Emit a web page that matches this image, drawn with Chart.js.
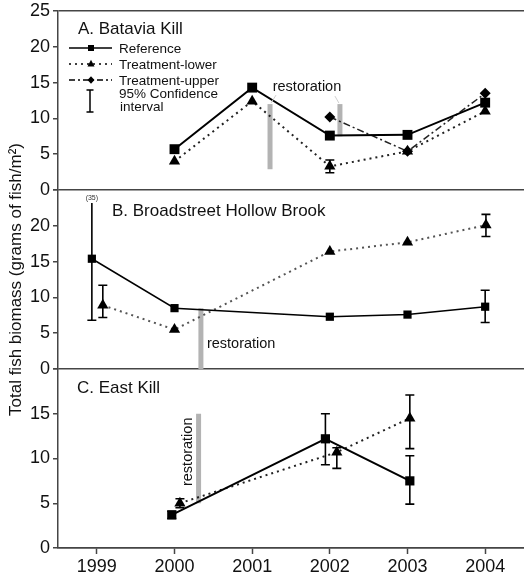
<!DOCTYPE html>
<html><head><meta charset="utf-8">
<script src="https://cdn.jsdelivr.net/npm/chart.js@4.4.1/dist/chart.umd.min.js"></script>
<style>html,body{margin:0;padding:0;background:#fff}canvas{display:block}</style>
</head><body>
<canvas id="c" width="524" height="580"></canvas>
<script>
// ---------------- DATA ----------------
const years = [1999, 2000, 2001, 2002, 2003, 2004];
const yTicksAB = [0, 5, 10, 15, 20, 25];
const yTicksC = [0, 5, 10, 15, 20];

// Panel A – Batavia Kill
const aReference = [null, 5.7, 14.3, 7.6, 7.7, 12.2];
const aLower     = [null, 4.0, 12.4, 3.3, 5.4, 11.0];
const aUpper     = [null, null, null, 10.2, 5.4, 13.5];
const aLowerCiLow  = [null, null, null, 2.4, null, null];
const aLowerCiHigh = [null, null, null, 4.2, null, null];

// Panel B – Broadstreet Hollow Brook
const bReference = [15.4, 8.5, null, 7.3, 7.6, 8.7];
const bLower     = [8.9, 5.5, null, 16.4, 17.7, 20.1];
const bReferenceCiLow  = [6.8, null, null, null, null, 6.5];
const bReferenceCiHigh = [35, null, null, null, null, 11.0];
const bLowerCiLow  = [7.2, null, null, null, null, 18.5];
const bLowerCiHigh = [11.7, null, null, null, null, 21.6];

// Panel C – East Kill
const cReference = [null, 3.7, null, 12.2, 7.5, null];
const cLower     = [null, 5.0, null, 10.7, 14.5, null];
const cReferenceCiLow  = [null, 3.3, null, 9.3, 4.9, null];
const cReferenceCiHigh = [null, 4.1, null, 15.0, 10.3, null];
const cLowerCiLow  = [null, 4.5, null, 8.9, 11.1, null];
const cLowerCiHigh = [null, 5.5, null, 11.2, 17.1, null];

// Restoration timing (year) and bar extents (y values)
const restorationA = [2001.23, 2002.13];
const restorationARange = [[2.9, 12.0], [7.5, 12.0]];
const restorationB = 2000.34;
const restorationBRange = [0, 8.5];
const restorationC = 2000.31;
const restorationCRange = [5.0, 15.0];

// ---------------- LAYOUT / STYLE ----------------
const zeroDodge = [0, 0, 0, 0, 0, 0];
const bRefDodge = [-0.064, 0, 0, 0, 0, 0];
const bLowDodge = [0.077, 0, 0, 0, 0, 0.01];
const cRefDodge = [0, -0.035, 0, -0.057, 0.03, 0];
const cLowDodge = [0, 0.07, 0, 0.09, 0.03, 0];
const truncatedCiTop = 23.2;   // display end of truncated CI (value printed)

const FONT = '"Liberation Sans", Arial, Helvetica, sans-serif';
const AXIS = '#454545';
const TXT = '#111';
const GREY = '#b3b3b3';

function series(vals, dodge) {
  const out = [];
  years.forEach((yr, i) => { if (vals[i] != null) out.push({x: yr + dodge[i], y: vals[i]}); });
  return out;
}
function vbar(t, r) { return [{x: t, y: r[0]}, {x: t, y: r[1]}]; }

const refStyle = (axis, w, r) => ({type: 'line', yAxisID: axis, borderColor: '#000', borderWidth: w,
  pointStyle: 'rect', pointRadius: r, pointBackgroundColor: '#000', pointBorderColor: '#000', pointBorderWidth: 0, order: 1});
const lowStyle = (axis, col, r) => ({type: 'line', yAxisID: axis, borderColor: col, borderWidth: 2, borderDash: [2, 4],
  pointStyle: 'triangle', pointRadius: r, pointBackgroundColor: '#000', pointBorderColor: '#000', pointBorderWidth: 0, order: 2});
const upStyle = (axis) => ({type: 'line', yAxisID: axis, borderColor: '#222', borderWidth: 1.5, borderDash: [7, 3, 2, 3],
  pointStyle: 'rectRot', pointRadius: 5.5, pointBackgroundColor: '#000', pointBorderColor: '#000', pointBorderWidth: 0, order: 3});
const barStyle = (axis) => ({type: 'line', yAxisID: axis, borderColor: GREY, borderWidth: 5, pointRadius: 0, borderCapStyle: 'butt', order: 10});

const datasets = [
  Object.assign(barStyle('yA'), {data: vbar(restorationA[0], restorationARange[0])}),
  Object.assign(barStyle('yA'), {data: vbar(restorationA[1], restorationARange[1])}),
  Object.assign(barStyle('yB'), {data: vbar(restorationB, restorationBRange)}),
  Object.assign(barStyle('yC'), {data: vbar(restorationC, restorationCRange)}),
  Object.assign(refStyle('yA', 2, 7), {label: 'Reference', data: series(aReference, zeroDodge)}),
  Object.assign(lowStyle('yA', '#222', 6.5), {label: 'Treatment-lower', data: series(aLower, zeroDodge)}),
  Object.assign(upStyle('yA'), {label: 'Treatment-upper', data: series(aUpper, zeroDodge)}),
  Object.assign(refStyle('yB', 1.5, 5.8), {label: 'Reference', data: series(bReference, bRefDodge)}),
  Object.assign(lowStyle('yB', '#555', 6.5), {label: 'Treatment-lower', data: series(bLower, bLowDodge)}),
  Object.assign(refStyle('yC', 2, 6.5), {label: 'Reference', data: series(cReference, cRefDodge)}),
  Object.assign(lowStyle('yC', '#222', 6.5), {label: 'Treatment-lower', data: series(cLower, cLowDodge)})
];

function yAxis(max, weight, ticksList, showTop, title) {
  return {
    type: 'linear', position: 'left', stack: 'panels', stackWeight: 1, weight: weight,
    min: 0, max: max,
    afterBuildTicks: a => { a.ticks = ticksList.map(v => ({value: v})); },
    ticks: {autoSkip: false, padding: 3, color: TXT, font: {family: FONT, size: 18},
      callback: v => (v === max && !showTop) ? '' : String(v)},
    grid: {
      color: c => (c.tick && (c.tick.value === 0 || (showTop && c.tick.value === max))) ? AXIS : 'rgba(0,0,0,0)',
      lineWidth: 1.5, drawTicks: true, tickLength: 5, tickColor: AXIS, tickWidth: 1.5
    },
    border: {display: true, color: AXIS, width: 1.5},
    title: title ? {display: true, text: title, color: TXT, font: {family: FONT, size: 17}, padding: {top: 6, bottom: 0}} : {display: false},
    afterFit: a => { a.width = 58; a.paddingTop = 0; a.paddingBottom = 0; a.paddingLeft = 0; a.paddingRight = 0; }
  };
}

function drawCI(ctx, xs, ys, lows, highs, dodge) {
  ctx.strokeStyle = '#000';
  ctx.lineWidth = 1.6;
  years.forEach((yr, i) => {
    if (lows[i] == null) return;
    const px = xs.getPixelForValue(yr + dodge[i]);
    const truncated = highs[i] > ys.max;
    const hi = truncated ? truncatedCiTop : highs[i];
    const p1 = ys.getPixelForValue(lows[i]);
    const p2 = ys.getPixelForValue(hi);
    ctx.beginPath();
    ctx.moveTo(px, p1); ctx.lineTo(px, p2);
    ctx.moveTo(px - 4.5, p1); ctx.lineTo(px + 4.5, p1);
    if (!truncated) { ctx.moveTo(px - 4.5, p2); ctx.lineTo(px + 4.5, p2); }
    ctx.stroke();
    if (truncated) {
      ctx.fillStyle = '#333';
      ctx.font = '7px ' + FONT;
      ctx.textAlign = 'center';
      ctx.textBaseline = 'bottom';
      ctx.fillText('(' + highs[i] + ')', px, p2 - 1);
    }
  });
}

function marker(ctx, style, x, y, s) {
  ctx.fillStyle = '#000';
  ctx.beginPath();
  if (style === 'rect') ctx.rect(x - s, y - s, 2 * s, 2 * s);
  else if (style === 'triangle') { ctx.moveTo(x, y - s * 1.2); ctx.lineTo(x + s, y + s * 0.7); ctx.lineTo(x - s, y + s * 0.7); ctx.closePath(); }
  else { ctx.moveTo(x, y - s * 1.2); ctx.lineTo(x + s * 1.1, y); ctx.lineTo(x, y + s * 1.2); ctx.lineTo(x - s * 1.1, y); ctx.closePath(); }
  ctx.fill();
}

const annotations = {
  id: 'annotations',
  afterDatasetsDraw(chart) {
    const ctx = chart.ctx;
    const {x, yA, yB, yC} = chart.scales;
    ctx.save();
    drawCI(ctx, x, yA, aLowerCiLow, aLowerCiHigh, zeroDodge);
    drawCI(ctx, x, yB, bReferenceCiLow, bReferenceCiHigh, bRefDodge);
    drawCI(ctx, x, yB, bLowerCiLow, bLowerCiHigh, bLowDodge);
    drawCI(ctx, x, yC, cReferenceCiLow, cReferenceCiHigh, cRefDodge);
    drawCI(ctx, x, yC, cLowerCiLow, cLowerCiHigh, cLowDodge);
    ctx.restore();
  },
  afterDraw(chart) {
    const ctx = chart.ctx;
    const {x, yA, yB, yC} = chart.scales;
    const L = chart.chartArea.left;
    ctx.save();
    ctx.fillStyle = TXT;
    ctx.textBaseline = 'alphabetic';
    ctx.textAlign = 'left';
    // panel titles
    ctx.font = '17px ' + FONT;
    ctx.fillText('A. Batavia Kill', L + 20, yA.top + 23);
    ctx.fillText('B. Broadstreet Hollow Brook', L + 54, yB.top + 26);
    ctx.fillText('C. East Kill', L + 19, yC.top + 24);

    // legend in panel A
    const lx0 = L + 11, lx1 = L + 54, mx = L + 33, tx = L + 61;
    const rows = [yA.top + 37, yA.top + 53, yA.top + 69];
    ctx.strokeStyle = '#000';
    ctx.lineWidth = 1.5;
    ctx.setLineDash([]);
    ctx.beginPath(); ctx.moveTo(lx0, rows[0]); ctx.lineTo(lx1, rows[0]); ctx.stroke();
    marker(ctx, 'rect', mx, rows[0], 3);
    ctx.setLineDash([2, 4]);
    ctx.beginPath(); ctx.moveTo(lx0, rows[1]); ctx.lineTo(lx1, rows[1]); ctx.stroke();
    ctx.setLineDash([]);
    marker(ctx, 'triangle', mx, rows[1], 3.5);
    ctx.setLineDash([6, 3, 2, 3]);
    ctx.beginPath(); ctx.moveTo(lx0, rows[2]); ctx.lineTo(lx1, rows[2]); ctx.stroke();
    ctx.setLineDash([]);
    marker(ctx, 'diamond', mx, rows[2], 3.2);
    // CI symbol
    const cx = L + 32, c1 = yA.top + 79, c2 = yA.top + 101;
    ctx.beginPath();
    ctx.moveTo(cx, c1); ctx.lineTo(cx, c2);
    ctx.moveTo(cx - 3.5, c1); ctx.lineTo(cx + 3.5, c1);
    ctx.moveTo(cx - 3.5, c2); ctx.lineTo(cx + 3.5, c2);
    ctx.stroke();
    ctx.fillStyle = TXT;
    ctx.font = '13.5px ' + FONT;
    ctx.fillText('Reference', tx, rows[0] + 4.5);
    ctx.fillText('Treatment-lower', tx, rows[1] + 4.5);
    ctx.fillText('Treatment-upper', tx, rows[2] + 4.5);
    ctx.fillText('95% Confidence', tx, yA.top + 87);
    ctx.fillText('interval', tx + 1, yA.top + 100);

    // restoration labels
    ctx.font = '14.5px ' + FONT;
    ctx.textAlign = 'center';
    const ax = (x.getPixelForValue(restorationA[0]) + x.getPixelForValue(restorationA[1])) / 2;
    ctx.fillText('restoration', ax + 2, yA.getPixelForValue(13.8));
    // faint leader lines
    ctx.strokeStyle = '#cfcfcf';
    ctx.lineWidth = 1;
    const t0 = yA.getPixelForValue(restorationARange[0][1]);
    ctx.beginPath();
    ctx.moveTo(x.getPixelForValue(restorationA[0]) + 1, t0 - 1);
    ctx.lineTo(x.getPixelForValue(restorationA[0]) + 6, t0 - 9);
    ctx.moveTo(x.getPixelForValue(restorationA[1]) - 1, t0 - 1);
    ctx.lineTo(x.getPixelForValue(restorationA[1]) - 5, t0 - 8);
    ctx.stroke();

    ctx.fillStyle = TXT;
    ctx.textAlign = 'left';
    ctx.fillText('restoration', x.getPixelForValue(restorationB) + 6, yB.getPixelForValue(3.0));

    ctx.save();
    ctx.translate(x.getPixelForValue(restorationC) - 11, yC.getPixelForValue(10.75));
    ctx.rotate(-Math.PI / 2);
    ctx.textAlign = 'center';
    ctx.textBaseline = 'middle';
    ctx.fillText('restoration', 0, 0);
    ctx.restore();
    ctx.restore();
  }
};

new Chart(document.getElementById('c'), {
  type: 'line',
  data: {datasets: datasets},
  options: {
    responsive: false,
    animation: false,
    devicePixelRatio: 1,
    layout: {autoPadding: false, padding: {top: 11, right: 0, bottom: 0, left: 0}},
    plugins: {legend: {display: false}, tooltip: {enabled: false}},
    scales: {
      x: {
        type: 'linear', position: 'bottom', min: 1998.5, max: 2004.5,
        afterBuildTicks: a => { a.ticks = years.map(v => ({value: v})); },
        ticks: {autoSkip: false, maxRotation: 0, padding: 2, color: TXT, font: {family: FONT, size: 18}, callback: v => String(v)},
        grid: {drawOnChartArea: false, drawTicks: true, tickLength: 6, tickColor: AXIS, tickWidth: 1.5},
        border: {display: true, color: AXIS, width: 1.5},
        afterFit: a => { a.height = 32; a.paddingLeft = 0; a.paddingRight = 0; }
      },
      yA: yAxis(25, 3, yTicksAB, true, null),
      yB: yAxis(25, 2, yTicksAB, false, 'Total fish biomass (grams of fish/m²)'),
      yC: yAxis(20, 1, yTicksC, false, null)
    }
  },
  plugins: [annotations]
});
</script>
</body></html>
